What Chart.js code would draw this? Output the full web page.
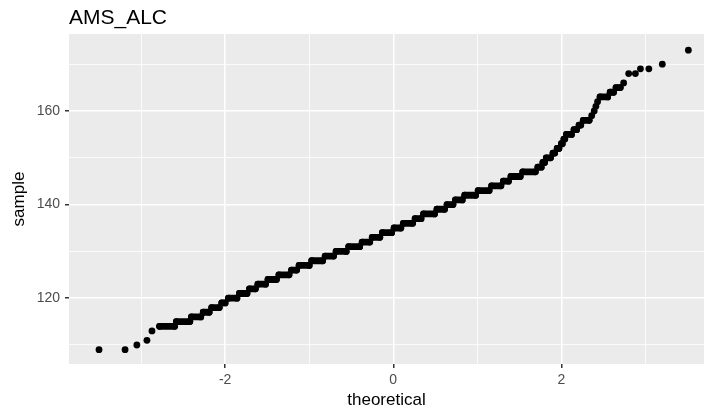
<!DOCTYPE html>
<html>
<head>
<meta charset="utf-8">
<title>AMS_ALC</title>
<script src="https://cdn.jsdelivr.net/npm/chart.js@4.4.1/dist/chart.umd.min.js"></script>
<style>
  html, body { margin: 0; padding: 0; background: #fff; }
  #wrap { width: 708px; height: 414px; }
</style>
</head>
<body>
<div id="wrap"><canvas id="qqChart" width="708" height="414"></canvas></div>
<script>
// Runs of tied sample values: value, first and last theoretical quantile
const runSample = [114, 115, 116, 117, 118, 119, 120, 121, 122, 123, 124, 125, 126, 127, 128, 129, 130,
  131, 132, 133, 134, 135, 136, 137, 138, 139, 140, 141, 142, 143, 144, 145, 146, 147, 148, 149, 150,
  151, 152, 153, 154, 155, 156, 157, 158, 163, 164, 165];
const runFrom = [-2.78, -2.58, -2.40, -2.26, -2.16, -2.04, -1.96, -1.83, -1.71, -1.61, -1.49, -1.36, -1.21, -1.12, -0.97, -0.81, -0.68,
  -0.53, -0.37, -0.25, -0.13, 0.01, 0.12, 0.26, 0.36, 0.52, 0.64, 0.74, 0.85, 1.01, 1.17, 1.31, 1.40, 1.54, 1.72, 1.78, 1.82,
  1.90, 1.95, 2.00, 2.03, 2.06, 2.15, 2.21, 2.26, 2.46, 2.58, 2.65];
const runTo = [-2.60, -2.42, -2.29, -2.19, -2.07, -2.00, -1.86, -1.74, -1.64, -1.52, -1.39, -1.24, -1.15, -1.00, -0.84, -0.71, -0.56,
  -0.40, -0.28, -0.16, -0.02, 0.09, 0.23, 0.33, 0.49, 0.61, 0.71, 0.82, 0.98, 1.14, 1.28, 1.37, 1.51, 1.69, 1.76, 1.80, 1.87,
  1.92, 1.97, 2.01, 2.04, 2.12, 2.18, 2.23, 2.33, 2.55, 2.62, 2.70];

// Single points in the tails
const tailTheoretical = [-3.50, -3.19, -3.05, -2.93, -2.87, 2.36, 2.39, 2.41, 2.43, 2.74, 2.80, 2.88, 2.94, 3.04, 3.20, 3.51];
const tailSample = [109, 109, 110, 111, 113, 159, 160, 161, 162, 166, 168, 168, 169, 169, 170, 173];

// Axis ticks (grid) and the ones that carry a label
const xTicks = [-3, -2, -1, 0, 1, 2, 3];
const xLabels = [-2, 0, 2];
const yTicks = [110, 120, 130, 140, 150, 160, 170];
const yLabels = [120, 140, 160];

const runPoints = [];
runSample.forEach((v, i) => {
  runPoints.push({ x: runFrom[i], y: v }, { x: runTo[i], y: v }, { x: runTo[i], y: null });
});
const tailPoints = tailTheoretical.map((x, i) => ({ x, y: tailSample[i] }));

// grey panel behind the grid
const panelBg = {
  id: 'panelBg',
  beforeDraw(chart) {
    const { ctx, chartArea: a } = chart;
    ctx.save();
    ctx.fillStyle = '#ebebeb';
    ctx.fillRect(a.left, a.top, a.right - a.left, a.bottom - a.top);
    ctx.restore();
  }
};

const font = 'Liberation Sans, Arial, sans-serif';
const dotR = 3.4;

function gridFor(labels) {
  return {
    color: '#ffffff',
    lineWidth: c => (c.tick && labels.includes(c.tick.value)) ? 1.5 : 0.8,
    tickColor: c => (c.tick && labels.includes(c.tick.value)) ? '#333333' : 'rgba(0,0,0,0)',
    tickLength: 4,
    tickWidth: 1.5
  };
}

new Chart(document.getElementById('qqChart').getContext('2d'), {
  type: 'line',
  data: {
    datasets: [
      {
        data: runPoints,
        borderColor: '#000',
        backgroundColor: '#000',
        borderWidth: dotR * 2,
        borderCapStyle: 'round',
        borderJoinStyle: 'round',
        pointRadius: dotR,
        pointBorderWidth: 0,
        pointBackgroundColor: '#000',
        spanGaps: false
      },
      {
        data: tailPoints,
        showLine: false,
        pointRadius: dotR,
        pointBorderWidth: 0,
        pointBackgroundColor: '#000'
      }
    ]
  },
  options: {
    responsive: false,
    animation: false,
    events: [],
    layout: { padding: 0 },
    plugins: {
      legend: { display: false },
      tooltip: { enabled: false },
      title: {
        display: true,
        text: 'AMS_ALC',
        align: 'start',
        fullSize: false,
        color: '#000',
        font: { family: font, size: 21, weight: 'normal', lineHeight: 1.2 },
        padding: { top: 5.5, bottom: 3.3 }
      }
    },
    scales: {
      x: {
        type: 'linear',
        min: -3.857,
        max: 3.696,
        afterBuildTicks: s => { s.ticks = xTicks.map(v => ({ value: v })); },
        afterFit: s => { s.height = 50; },
        border: { display: false },
        grid: gridFor(xLabels),
        ticks: {
          autoSkip: false,
          maxRotation: 0,
          padding: 4,
          color: '#4d4d4d',
          font: { family: font, size: 14 },
          callback: v => xLabels.includes(v) ? String(v) : ''
        },
        title: {
          display: true,
          text: 'theoretical',
          color: '#000',
          font: { family: font, size: 17 },
          padding: { top: 0, bottom: 3 }
        }
      },
      y: {
        type: 'linear',
        min: 105.94,
        max: 176.45,
        afterBuildTicks: s => { s.ticks = yTicks.map(v => ({ value: v })); },
        afterFit: s => { s.width = 69; },
        border: { display: false },
        grid: gridFor(yLabels),
        ticks: {
          autoSkip: false,
          padding: 5,
          color: '#4d4d4d',
          font: { family: font, size: 14 },
          callback: v => yLabels.includes(v) ? String(v) : ''
        },
        title: {
          display: true,
          text: 'sample',
          color: '#000',
          font: { family: font, size: 17 },
          padding: { top: 9, bottom: 0 }
        }
      }
    }
  },
  plugins: [panelBg]
});
</script>
</body>
</html>
